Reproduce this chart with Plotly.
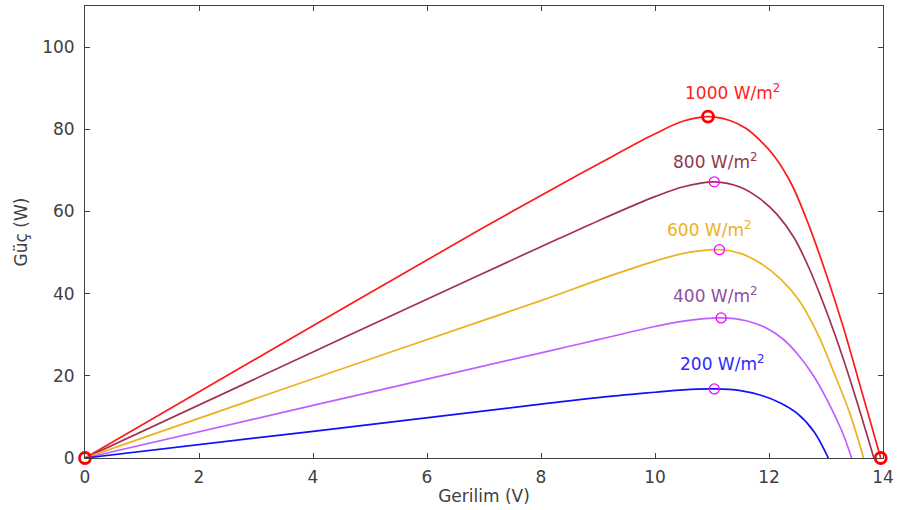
import plotly.graph_objects as go

# Voltage (V) / power (W) readings for each irradiance
v1000 = [0, 4, 6.93, 8, 9, 10, 10.5, 10.93, 11.3, 11.6, 11.85, 12.1, 12.4, 12.7, 13.0, 13.3, 13.6, 13.96]
p1000 = [0, 32.2, 55.6, 63.9, 71.5, 78.9, 82.0, 83.1, 82.2, 80.2, 77.2, 73.3, 66.5, 56.6, 44.9, 32.0, 17.5, 0]

v800 = [0, 4, 6.93, 8, 9, 10, 10.5, 11.04, 11.5, 11.85, 12.14, 12.44, 12.7, 12.93, 13.17, 13.4, 13.62, 13.84]
p800 = [0, 25.8, 44.6, 51.4, 57.7, 63.6, 66.0, 67.2, 65.9, 63.0, 59.3, 53.6, 46.3, 38.5, 29.5, 20.0, 10.2, 0]

v600 = [0, 4, 8, 9, 10, 10.5, 11.13, 11.5, 11.85, 12.2, 12.52, 12.85, 13.15, 13.42, 13.66]
p600 = [0, 19.3, 38.3, 43.3, 47.9, 49.8, 50.7, 49.8, 47.4, 43.6, 38.5, 30.3, 20.4, 10.8, 0]

v400 = [0, 4, 8, 9, 10, 10.5, 11.16, 11.6, 12.0, 12.25, 12.5, 12.78, 13.02, 13.28, 13.45]
p400 = [0, 12.8, 25.6, 28.8, 32.0, 33.3, 34.1, 33.4, 31.3, 28.9, 25.3, 20.0, 14.1, 6.5, 0]

v200 = [0, 4, 8, 9, 10, 10.5, 11.04, 11.5, 11.9, 12.2, 12.49, 12.79, 13.04]
p200 = [0, 6.5, 13.1, 14.7, 16.0, 16.6, 16.8, 16.4, 15.1, 13.4, 10.9, 6.4, 0]

mpp_v = [11.04, 11.13, 11.16, 11.04]
mpp_p = [67.2, 50.7, 34.1, 16.8]
red_v = [10.93, 0, 13.96]
red_p = [83.1, 0, 0]

labels = ["1000 W/m<sup>2</sup>", "800 W/m<sup>2</sup>", "600 W/m<sup>2</sup>", "400 W/m<sup>2</sup>", "200 W/m<sup>2</sup>"]
label_v = [11.36, 11.06, 10.96, 11.06, 11.18]
label_p = [89.0, 72.3, 55.8, 39.6, 23.0]

x_ticks = [0, 2, 4, 6, 8, 10, 12, 14]
y_ticks = [0, 20, 40, 60, 80, 100]

line_colors = ["#FF1A1A", "#A2304F", "#EDB120", "#BF5FFF", "#1010FF"]
text_colors = ["#FF2020", "#943650", "#EDB120", "#8E4FA0", "#2A2AFF"]
series = [(v1000, p1000), (v800, p800), (v600, p600), (v400, p400), (v200, p200)]

FONT = "DejaVu Sans"
fig = go.Figure()
for (vv, pp), c in zip(series, line_colors):
    fig.add_trace(go.Scatter(x=vv, y=pp, mode="lines", line=dict(color=c, width=1.7, shape="spline", smoothing=1.0),
                             showlegend=False, hoverinfo="skip"))

fig.add_trace(go.Scatter(x=mpp_v, y=mpp_p, mode="markers", cliponaxis=False, showlegend=False,
                         marker=dict(symbol="circle-open", size=10, color="#FF00FF", line=dict(width=1.3, color="#FF00FF"))))
fig.add_trace(go.Scatter(x=red_v, y=red_p, mode="markers", cliponaxis=False, showlegend=False,
                         marker=dict(symbol="circle-open", size=11, color="#FF0000", line=dict(width=2.8, color="#FF0000"))))

for t, xv, yv, c in zip(labels, label_v, label_p, text_colors):
    fig.add_annotation(x=xv, y=yv, text=t, showarrow=False, font=dict(family=FONT, size=17, color=c),
                       xanchor="center", yanchor="middle")

axis_common = dict(showline=True, linecolor="#404040", linewidth=1, mirror="ticks", ticks="inside",
                   ticklen=5, tickcolor="#404040", showgrid=False, zeroline=False,
                   tickfont=dict(family=FONT, size=17, color="#404040"))
fig.update_xaxes(range=[0, 14], tickvals=x_ticks, ticklabelstandoff=4,
                 title=dict(text="Gerilim (V)", font=dict(family=FONT, size=17, color="#404040"), standoff=3),
                 **axis_common)
fig.update_yaxes(range=[0, 110], tickvals=y_ticks, ticklabelstandoff=6,
                 title=dict(text="Güç (W)", font=dict(family=FONT, size=17, color="#404040"), standoff=10),
                 **axis_common)
fig.update_layout(width=897, height=510, margin=dict(l=85, r=14, t=6, b=52, autoexpand=False),
                  plot_bgcolor="white", paper_bgcolor="white", font=dict(family=FONT))
fig.write_html("out.html", config={"displayModeBar": False},
               post_script="document.body.style.margin='0';document.body.style.overflow='hidden';")
